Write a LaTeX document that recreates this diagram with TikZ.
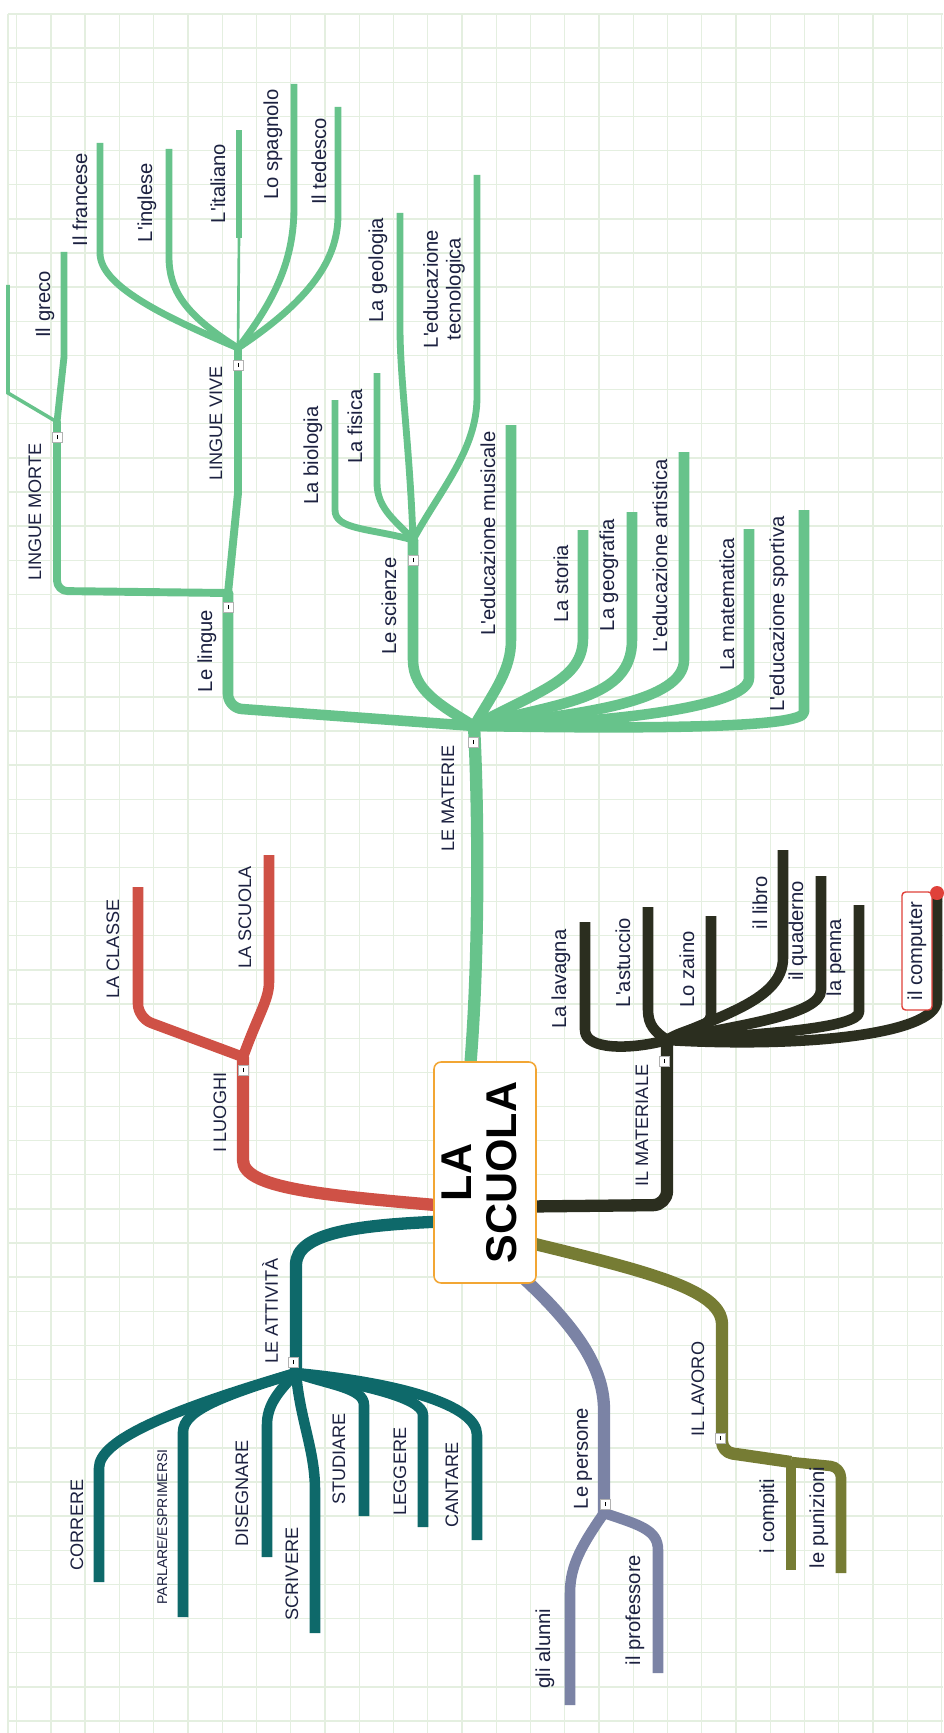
\documentclass[tikz,border=0pt]{standalone}
\usepackage{graphicx}
\usepackage{fontspec}
\setmainfont{Liberation Sans}
\usetikzlibrary{calc}
\pgfdeclarelayer{back}
\pgfsetlayers{back,main}
\definecolor{gridc}{HTML}{E4EFE0}
\definecolor{ink}{HTML}{1C2140}
\definecolor{matg}{HTML}{67C38B}
\definecolor{luor}{HTML}{CF5146}
\definecolor{mtlk}{HTML}{2B2E1F}
\definecolor{attt}{HTML}{0E696A}
\definecolor{perb}{HTML}{7B83A5}
\definecolor{lavo}{HTML}{767C34}
\definecolor{nodeo}{HTML}{F2A634}
\definecolor{compr}{HTML}{E0413A}
\newcommand{\ap}{\textquotesingle}
\tikzset{gridline/.style={draw=gridc, line width=0.8pt}}
\tikzset{trunk/.style={line width=7pt, line join=round}}
\tikzset{bough/.style={line width=6pt, line join=round}}
\tikzset{twig/.style={line width=4.5pt, line join=round}}
\tikzset{sprig/.style={line width=3.9pt, line join=round}}
\tikzset{lbl/.style={rotate=90, inner sep=0pt, text=ink, font=\fontsize{11.5}{13}\selectfont}}
\tikzset{caps/.style={lbl, font=\fontsize{10.3}{12}\selectfont}}
\tikzset{fold/.style={draw=gray!60, fill=white, line width=0.5pt, minimum size=0.2cm, inner sep=0pt}}
\tikzset{centre/.style={draw=nodeo, fill=white, line width=0.9pt, rounded corners=4pt, minimum width=2.04cm, minimum height=4.42cm, inner sep=0pt}}

\begin{document}
\begin{tikzpicture}[x=0.02cm, y=-0.02cm]
\useasboundingbox (0,0) rectangle (943,1733);
\node[centre] (C) at (485,1172.5) {\rotatebox{90}{\fontsize{24.5}{26}\selectfont\bfseries\begin{tabular}{@{}c@{}}LA\\SCUOLA\end{tabular}}};

% roots on the central box
\coordinate (matroot) at ($(C.north)+(-15,8)$);
\coordinate (lroot) at ($(C.west)+(8,33)$);
\coordinate (aroot) at ($(C.west)+(8,49)$);
\coordinate (mroot) at ($(C.east)+(-8,34)$);
\coordinate (oroot) at ($(C.east)+(-8,70)$);
\coordinate (proot) at ($(C.south)+(36,-8)$);

% junctions
\coordinate (mat) at (474,726);
\coordinate (li) at (228,593);
\coordinate (mor) at (57,422);
\coordinate (viv) at (238,348);
\coordinate (sci) at (413,540);
\coordinate (luo) at (243,1057);
\coordinate (mtl) at (667,1040);
\coordinate (att) at (296,1373);
\coordinate (per) at (604,1513);
\coordinate (lav) at (722,1452);

% stalk ends
\foreach \n/\x/\hi/\lo in {francese/100/143/253, inglese/169/149/257, italiano/239/130/238, spagnolo/294/84/207, tedesco/338/107/215, greco/64/252/357, morto/8/285/393, biologia/335/400/510, fisica/377/373/483, geologia/400/213/328, tecnologica/477/175/397, musicale/511/425/640, storia/583/530/638, geografia/632/512/640, artistica/684/452/660, matematica/749/529/678, sportiva/804/510/712, classe/138/887/1018, scuola/269/855/982, lavagna/585/922/1030, astuccio/648/907/1010, zaino/711/916/1015, libro/783/850/958, quaderno/821/876/990, penna/859/905/1012, computer/937/893/1000, correre/99/1468/1582, parlare/183/1432/1617, disegnare/267/1425/1557, scrivere/315/1490/1633, studiare/364/1405/1516, leggere/423/1415/1527, cantare/477/1435/1540, alunni/570/1593/1705, professore/658/1550/1673, compiti/791/1462/1570, punizioni/841/1467/1573}
  {\coordinate (\n-hi) at (\x,\hi); \coordinate (\n-lo) at (\x,\lo);}

\begin{pgfonlayer}{back}
\fill[white] (0,0) rectangle (943,1733);
\foreach \g in {0,...,27} \draw[gridline] ({16.7+34.25*\g},14) -- ({16.7+34.25*\g},1733);
\foreach \g in {0,...,50} \draw[gridline] (8,{14+34.14*\g}) -- (943,{14+34.14*\g});
\draw[gridline] (8,14) -- (8,1733);

% le materie
\draw[matg, trunk] (matroot) .. controls (480,950) and (478,800) .. (mat);
\draw[matg, bough, rounded corners=8pt] (mat) -- (228,708) -- (li);
\draw[matg, twig, rounded corners=6pt] (li) -- (57,591) -- (mor);
\draw[matg, twig] (li) -- (238,493) -- (viv);
\draw[matg, sprig] (viv) .. controls (160,315) and (100,285) .. (francese-lo) -- (francese-hi);
\draw[matg, sprig] (viv) .. controls (185,315) and (169,290) .. (inglese-lo) -- (inglese-hi);
\draw[matg, line width=1.5pt] (viv) -- (italiano-lo);
\draw[matg, sprig] (italiano-lo) -- (italiano-hi);
\draw[matg, sprig] (viv) .. controls (275,300) and (294,260) .. (spagnolo-lo) -- (spagnolo-hi);
\draw[matg, sprig] (viv) .. controls (310,300) and (338,260) .. (tedesco-lo) -- (tedesco-hi);
\draw[matg, sprig] (mor) -- (greco-lo) -- (greco-hi);
\draw[matg, line width=2pt] (mor) -- (morto-lo) -- (morto-hi);
\draw[matg, bough] (mat) .. controls (440,705) and (413,690) .. (413,660) -- (sci);
\draw[matg, sprig] (sci) .. controls (370,528) and (335,530) .. (biologia-lo) -- (biologia-hi);
\draw[matg, sprig] (sci) .. controls (398,522) and (377,510) .. (fisica-lo) -- (fisica-hi);
\draw[matg, sprig] (sci) .. controls (410,450) and (400,380) .. (geologia-lo) -- (geologia-hi);
\draw[matg, sprig] (sci) .. controls (440,490) and (477,450) .. (tecnologica-lo) -- (tecnologica-hi);
\draw[matg, bough] (mat) .. controls (495,690) and (511,670) .. (musicale-lo) -- (musicale-hi);
\draw[matg, bough] (mat) .. controls (540,690) and (583,680) .. (storia-lo) -- (storia-hi);
\draw[matg, bough] (mat) .. controls (560,702) and (632,700) .. (geografia-lo) -- (geografia-hi);
\draw[matg, bough] (mat) .. controls (580,715) and (684,702) .. (artistica-lo) -- (artistica-hi);
\draw[matg, bough] (mat) .. controls (600,724) and (749,708) .. (matematica-lo) -- (matematica-hi);
\draw[matg, bough] (mat) .. controls (650,729) and (804,728) .. (sportiva-lo) -- (sportiva-hi);
\fill[matg] (mat) circle (3.5pt) (li) circle (3pt) (sci) circle (3pt) (viv) circle (2.2pt) (mor) circle (2.2pt);

% i luoghi
\draw[luor, trunk] (lroot) .. controls (320,1195) and (243,1188) .. (243,1160) -- (luo);
\draw[luor, bough, rounded corners=8pt] (luo) -- (classe-lo) -- (classe-hi);
\draw[luor, bough] (luo) .. controls (258,1015) and (269,1000) .. (scuola-lo) -- (scuola-hi);
\fill[luor] (luo) circle (3.2pt);

% il materiale
\draw[mtlk, trunk, rounded corners=8pt] (mroot) -- (667,1205) -- (mtl);
\draw[mtlk, bough] (mtl) .. controls (630,1050) and (585,1050) .. (lavagna-lo) -- (lavagna-hi);
\draw[mtlk, bough] (mtl) .. controls (655,1032) and (648,1025) .. (astuccio-lo) -- (astuccio-hi);
\draw[mtlk, bough] (mtl) .. controls (685,1028) and (711,1028) .. (zaino-lo) -- (zaino-hi);
\draw[mtlk, bough] (mtl) .. controls (720,1015) and (783,1000) .. (libro-lo) -- (libro-hi);
\draw[mtlk, bough] (mtl) .. controls (740,1025) and (821,1015) .. (quaderno-lo) -- (quaderno-hi);
\draw[mtlk, bough] (mtl) .. controls (760,1035) and (859,1028) .. (penna-lo) -- (penna-hi);
\draw[mtlk, bough] (mtl) .. controls (800,1048) and (937,1035) .. (computer-lo) -- (computer-hi);
\fill[mtlk] (mtl) circle (3.2pt);

% le attivita
\draw[attt, trunk] (aroot) .. controls (360,1225) and (296,1232) .. (296,1265) -- (att);
\draw[attt, bough] (att) .. controls (170,1410) and (99,1440) .. (correre-hi) -- (correre-lo);
\draw[attt, bough] (att) .. controls (225,1395) and (183,1410) .. (parlare-hi) -- (parlare-lo);
\draw[attt, bough] (att) .. controls (278,1392) and (267,1405) .. (disegnare-hi) -- (disegnare-lo);
\draw[attt, bough] (att) .. controls (300,1420) and (315,1450) .. (scrivere-hi) -- (scrivere-lo);
\draw[attt, bough] (att) .. controls (330,1385) and (364,1388) .. (studiare-hi) -- (studiare-lo);
\draw[attt, bough] (att) .. controls (365,1385) and (423,1398) .. (leggere-hi) -- (leggere-lo);
\draw[attt, bough] (att) .. controls (400,1383) and (477,1405) .. (cantare-hi) -- (cantare-lo);
\fill[attt] (att) circle (3.2pt);

% le persone
\draw[perb, trunk] (proot) .. controls (580,1330) and (604,1370) .. (604,1410) -- (per);
\draw[perb, bough] (per) .. controls (582,1545) and (570,1565) .. (alunni-hi) -- (alunni-lo);
\draw[perb, bough] (per) .. controls (640,1525) and (658,1530) .. (professore-hi) -- (professore-lo);
\fill[perb] (per) circle (3.2pt);

% il lavoro
\draw[lavo, trunk, rounded corners=6pt] (oroot) .. controls (650,1272) and (722,1290) .. (722,1335) -- (lav) -- (compiti-hi);
\draw[lavo, bough] (compiti-hi) -- (compiti-lo);
\draw[lavo, bough, rounded corners=6pt] (compiti-hi) -- (punizioni-hi) -- (punizioni-lo);
\end{pgfonlayer}

% labels
\node[lbl] (francese) at (80,199.5) {Il francese};
\node[lbl] (inglese) at (147,202.5) {L\ap inglese};
\node[lbl] (italiano) at (218,183.5) {L\ap italiano};
\node[lbl] (spagnolo) at (273,144.5) {Lo spagnolo};
\node[lbl] (tedesco) at (319,161.5) {Il tedesco};
\node[lbl] (greco) at (45,304.5) {Il greco};
\node[caps] (vive) at (216,423.5) {LINGUE VIVE};
\node[caps] (morte) at (35,512) {LINGUE MORTE};
\node[lbl] (lingue) at (207,651) {Le lingue};
\node[lbl] (scienze) at (389,606) {Le scienze};
\node[lbl] (biologia) at (313,455.5) {La biologia};
\node[lbl] (fisica) at (355,426.5) {La fisica};
\node[lbl] (geologia) at (378,270) {La geologia};
\node[lbl, align=center] (tecnologica) at (444,289) {L\ap educazione\\tecnologica};
\node[lbl] (musicale) at (488,533.5) {L\ap educazione musicale};
\node[lbl] (storia) at (561,583.5) {La storia};
\node[lbl] (geografia) at (609,575) {La geografia};
\node[lbl] (artistica) at (660,556) {L\ap educazione artistica};
\node[lbl] (matematica) at (727,604) {La matematica};
\node[lbl] (sportiva) at (779,614) {L\ap educazione sportiva};
\node[caps] (materie) at (448,798.5) {LE MATERIE};
\node[caps] (classe) at (113,949) {LA CLASSE};
\node[caps] (lascuola) at (245,917.5) {LA SCUOLA};
\node[caps] (luoghi) at (220,1112.5) {I LUOGHI};
\node[caps] (materiale) at (642,1125.5) {IL MATERIALE};
\node[lbl] (lavagna) at (561,979) {La lavagna};
\node[lbl] (astuccio) at (623,962.5) {L\ap astuccio};
\node[lbl] (zaino) at (687,969.5) {Lo zaino};
\node[lbl] (libro) at (760,903) {il libro};
\node[lbl] (quaderno) at (798,931) {il quaderno};
\node[lbl] (penna) at (836,957.5) {la penna};
\node[lbl, draw=compr, fill=white, line width=0.8pt, rounded corners=2pt, minimum width=2.36cm, minimum height=0.6cm] (computer) at (917,951) {il computer};
\fill[compr] (computer-hi) circle (0.14cm);
\node[caps] (attivita) at (270,1311) {LE ATTIVITÀ};
\node[caps] (correre) at (77,1525) {CORRERE};
\node[caps, font=\fontsize{8}{9}\selectfont] (parlare) at (162,1527) {PARLARE/ESPRIMERSI};
\node[caps] (disegnare) at (242,1493.5) {DISEGNARE};
\node[caps] (scrivere) at (292,1574) {SCRIVERE};
\node[caps] (studiare) at (339,1459) {STUDIARE};
\node[caps] (leggere) at (400,1471.5) {LEGGERE};
\node[caps] (cantare) at (452,1485) {CANTARE};
\node[lbl] (persone) at (583,1458.5) {Le persone};
\node[lbl] (alunni) at (545,1648.5) {gli alunni};
\node[lbl] (professore) at (635,1610) {il professore};
\node[caps] (lavoro) at (698,1389) {IL LAVORO};
\node[lbl] (compiti) at (769,1516) {i compiti};
\node[lbl] (punizioni) at (819,1517.5) {le punizioni};

% collapse marks
\foreach \f/\x/\y in {mat/473/742, li/228/607, mor/57/437, viv/238/365, sci/413/560, luo/243/1070, mtl/664/1061, att/293/1362, per/605/1504, lav/720/1438}
  \node[fold] (fold-\f) at (\x,\y) {\rule{0.5pt}{2.5pt}};
\end{tikzpicture}
\end{document}
